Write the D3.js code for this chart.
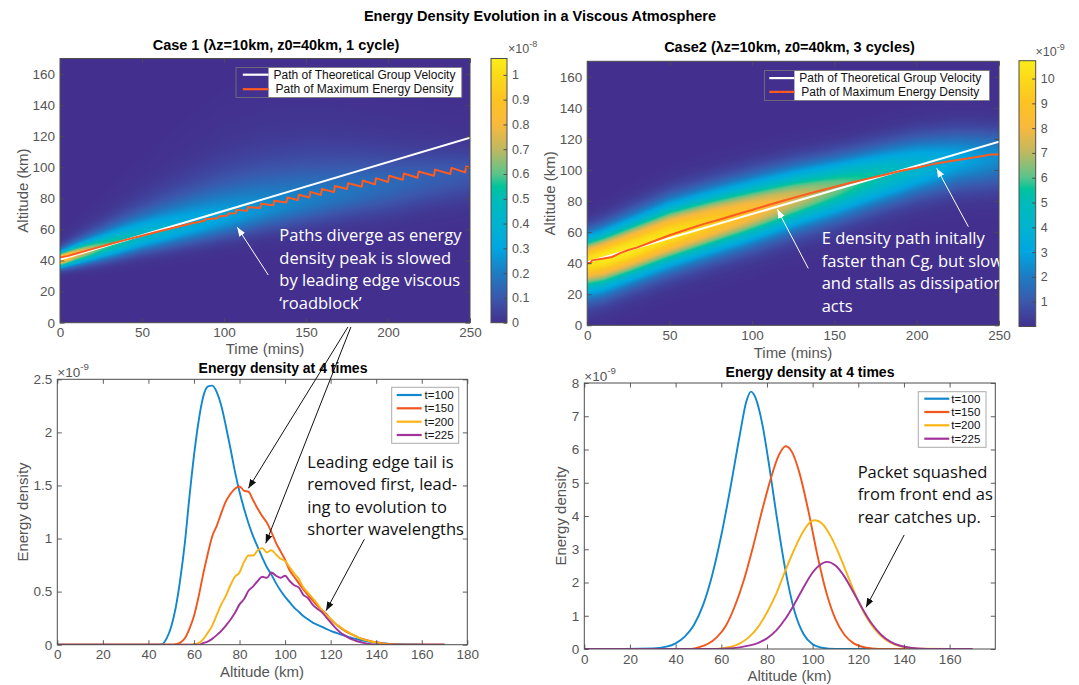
<!DOCTYPE html>
<html>
<head>
<meta charset="utf-8">
<script src="https://cdn.jsdelivr.net/npm/d3@7/dist/d3.min.js"></script>
<style>
  html,body{margin:0;padding:0;background:#fff;}
  svg{display:block;}
</style>
</head>
<body>
<svg id="chart" width="1079" height="685" xmlns="http://www.w3.org/2000/svg"></svg>
<script>
// ------------------------- DATA -------------------------
const mainTitle = "Energy Density Evolution in a Viscous Atmosphere";
const case1Title = "Case 1 (\u03bbz=10km, z0=40km, 1 cycle)";
const case2Title = "Case2 (\u03bbz=10km, z0=40km, 3 cycles)";
const profTitle = "Energy density at 4 times";

const timeTicks = [0, 50, 100, 150, 200, 250];
const altTicks = [0, 20, 40, 60, 80, 100, 120, 140, 160];
const cbar1Ticks = [0, 0.1, 0.2, 0.3, 0.4, 0.5, 0.6, 0.7, 0.8, 0.9, 1];
const cbar2Ticks = [1, 2, 3, 4, 5, 6, 7, 8, 9, 10];
const prof1XTicks = [0, 20, 40, 60, 80, 100, 120, 140, 160, 180];
const prof1YTicks = [0, 0.5, 1, 1.5, 2, 2.5];
const prof2XTicks = [0, 20, 40, 60, 80, 100, 120, 140, 160];
const prof2YTicks = [0, 1, 2, 3, 4, 5, 6, 7, 8];

// Heat-map envelopes (per time sample)
const envTimes   = [0, 10, 25, 50, 75, 100, 125, 150, 175, 200, 225, 250];
// case 1 (units 1e-8)
const env1Center = [41, 44.5, 49, 56, 62, 67.5, 73.5, 79, 84.5, 89, 93.5, 97];
const env1Peak   = [1.066, 0.82, 0.62, 0.45, 0.36, 0.3, 0.25, 0.21, 0.18, 0.15, 0.125, 0.105];
const env1SigLow = [3.5, 4.5, 5.5, 6.5, 7.5, 8, 9, 10, 11, 12, 12, 12];
const env1TailHigh = [2.5, 3.5, 5, 8, 11, 14, 15.5, 15.5, 14, 12, 10, 8.5];
// case 2 (units 1e-9)
const env2Center = [41, 43.5, 48.5, 58, 66, 73.5, 81.5, 88.5, 95.3, 101.2, 106.4, 109];
const env2Peak   = [10.3, 10.72, 10.7, 10.4, 9.6, 8.6, 7.5, 6.4, 5.3, 4.2, 3.1, 2.4];
const env2SigLow = [13, 13, 12.5, 12.5, 12.5, 12.5, 12.5, 12.5, 12, 11.5, 12, 13];
const env2SigHigh = [10.5, 11, 12, 13, 13, 13, 12.5, 12, 12, 12.5, 12, 11];

// Paths on heat maps
const cg1Time = [0, 250], cg1Alt = [40.6, 119];
const max1Time = [0,5,10,20,30,40,50,60,70,80,88,88.7,96,96.7,102,102.7,
  107,107.7,114,114.7,122,122.7,130,130.7,138,138.7,145,145.7,152,152.7,159,159.7,
  167,167.7,175,175.7,184,184.7,192,192.7,200,200.7,209,209.7,218,218.7,228,228.7,
  238,238.7,247,247.7,250];
const max1Alt = [42,43,44.5,47.5,50.5,53.3,56,58.7,61.3,63.8,65.6,66.6,67.2,68.3,69,70.2,
  70.5,72.6,72,74.5,73.8,76.5,75.5,78.5,77.3,80.5,79,82.3,80.6,84.2,82.2,86,
  84,88,86,89.8,87.5,91.5,89,93,90.5,94.5,92,96,93.3,97.3,94.6,98.5,
  95.7,99.6,96.7,100.5,99.5];
const cg2Time = [0, 250], cg2Alt = [40.6, 118.2];
const max2Time = [0,2,3,10,15,20,25,30,40,50,60,70,80,90,100,110,120,130,140,150,160,170,180,190,200,210,220,230,240,245,250];
const max2Alt  = [40,40.3,41.8,43,44,46.5,48.5,50,54,58,61.5,65,68,71.2,74.2,77.5,80.5,83.5,86.3,89,91.8,94.3,96.8,99.3,101.5,103.8,105.6,107.2,109,110,110];

// Case 1 profiles (units 1e-9)
const prof1Alt = [0,40,42,44,46,48,50,52,54,56,58,60,62,64,66,68,70,72,74,76,78,80,82,84,86,88,90,92,94,96,98,100,102,104,106,108,110,112,114,116,118,120,122,124,126,128,130,132,134,136,138,140,142,144,146,148,150,160,170];
const prof1T100 = [0,0,0,0,0.005,0.06,0.17,0.35,0.62,0.96,1.39,1.78,2.1,2.33,2.43,2.44,2.38,2.25,2.06,1.85,1.63,1.44,1.28,1.14,1.02,0.92,0.82,0.73,0.66,0.58,0.51,0.45,0.4,0.35,0.31,0.27,0.24,0.21,0.19,0.17,0.15,0.13,0.115,0.1,0.085,0.07,0.06,0.05,0.04,0.032,0.025,0.02,0.015,0.011,0.008,0.006,0.004,0.001,0];
const prof1T150 = [0,0,0,0,0,0,0,0.005,0.02,0.06,0.15,0.27,0.45,0.66,0.85,1.02,1.12,1.24,1.35,1.42,1.47,1.49,1.45,1.44,1.36,1.28,1.21,1.15,1.06,0.96,0.88,0.8,0.7,0.64,0.58,0.52,0.47,0.42,0.37,0.33,0.29,0.24,0.2,0.165,0.135,0.11,0.09,0.07,0.055,0.043,0.032,0.023,0.016,0.01,0.006,0.003,0.001,0,0];
const prof1T200 = [0,0,0,0,0,0,0,0,0,0,0,0.005,0.015,0.05,0.11,0.18,0.28,0.38,0.46,0.56,0.64,0.68,0.78,0.84,0.84,0.89,0.91,0.87,0.89,0.85,0.81,0.79,0.73,0.67,0.62,0.54,0.49,0.44,0.39,0.33,0.28,0.245,0.2,0.17,0.14,0.115,0.09,0.07,0.052,0.04,0.028,0.02,0.012,0.007,0.004,0.002,0,0,0];
const prof1T225 = [0,0,0,0,0,0,0,0,0,0,0,0,0,0.015,0.03,0.055,0.09,0.13,0.18,0.235,0.3,0.38,0.43,0.51,0.55,0.6,0.64,0.63,0.68,0.65,0.63,0.65,0.6,0.56,0.54,0.47,0.44,0.38,0.34,0.31,0.26,0.21,0.16,0.12,0.09,0.065,0.045,0.03,0.02,0.01,0.005,0.002,0,0,0,0,0,0,0];

// Case 2 profiles (units 1e-9)
const prof2AltT100 = [0,30,36,40,44,48,52,56,60,64,68,71,73,75,78,81,84,88,92,96,100,104,110,170];
const prof2T100    = [0,0.02,0.07,0.17,0.37,0.72,1.32,2.22,3.42,4.85,6.4,7.45,7.74,7.55,6.75,5.5,4.1,2.4,1.15,0.45,0.14,0.04,0,0];
const prof2AltT150 = [0,46,50,54,58,62,66,70,74,78,82,85,88.2,91,94,98,102,106,110,114,118,122,126,132,170];
const prof2T150    = [0,0,0.05,0.15,0.35,0.7,1.3,2.1,3.1,4.2,5.2,5.8,6.1,5.92,5.35,4.2,2.85,1.7,0.9,0.42,0.17,0.06,0.02,0,0];
const prof2AltT200 = [0,56,60,64,68,72,76,80,84,88,92,96,99,101,104,108,112,116,120,124,128,132,136,140,144,148,170];
const prof2T200    = [0,0,0.02,0.06,0.16,0.35,0.65,1.1,1.65,2.35,3.0,3.55,3.82,3.87,3.78,3.38,2.78,2.1,1.44,0.91,0.53,0.28,0.135,0.06,0.024,0.008,0];
const prof2AltT225 = [0,60,64,68,72,76,80,84,88,92,96,100,103,106.3,110,114,118,122,126,130,134,138,142,146,150,170];
const prof2T225    = [0,0,0.02,0.05,0.1,0.18,0.32,0.55,0.9,1.35,1.85,2.3,2.52,2.62,2.51,2.17,1.69,1.19,0.75,0.43,0.22,0.105,0.045,0.017,0.005,0];

const seriesNames = ["t=100", "t=150", "t=200", "t=225"];
const seriesColors = ["#1187cc", "#f2561d", "#f9b414", "#a2339c"];
const legendTop = ["Path of Theoretical Group Velocity", "Path of Maximum Energy Density"];

const note1 = ["Paths diverge as energy", "density peak is slowed", "by leading edge viscous", "\u2018roadblock\u2019"];
const note2 = ["E density path initally", "faster than Cg, but slows", "and stalls as dissipation", "acts"];
const note3 = ["Leading edge tail is", "removed first, lead-", "ing to evolution to", "shorter wavelengths"];
const note4 = ["Packet squashed", "from front end as", "rear catches up."];

// ------------------------- STYLE / LAYOUT -------------------------
const FONT = '"Liberation Sans", Arial, Helvetica, sans-serif';
const ANNOT = '"Open Sans", "Noto Sans", sans-serif';
const AX = '#4d4d4d';
const cmapStops  = [0, 0.094, 0.188, 0.281, 0.375, 0.469, 0.516, 0.563, 0.657, 0.75, 0.844, 0.94, 1];
const cmapColors = ["#43308e","#3b58ad","#1d7cc3","#00a6e0","#00b3d0","#00bbb8","#00c49c","#5cc48a","#c0b860","#f9b93d","#fdc322","#fbdc18","#fbec1a"];

const P1 = {x0:60, x1:470, y0:58.5, y1:322.7};
const CB1 = {x0:491, x1:507, y0:58.5, y1:322.7};
const P2 = {x0:587.2, x1:999, y0:61.3, y1:325.3};
const CB2 = {x0:1019, x1:1035.7, y0:60.7, y1:326.5};
const P3 = {x0:57.3, x1:467.3, y0:379.3, y1:644.7};
const P4 = {x0:584.3, x1:995.3, y0:383, y1:649};

const svg = d3.select('#chart');
const defs = svg.append('defs');

// scales
const x1s = d3.scaleLinear().domain([0,250]).range([P1.x0,P1.x1]);
const y1s = d3.scaleLinear().domain([0,170]).range([P1.y1,P1.y0]);
const x2s = d3.scaleLinear().domain([0,250]).range([P2.x0,P2.x1]);
const y2s = d3.scaleLinear().domain([0,170]).range([P2.y1,P2.y0]);
const x3s = d3.scaleLinear().domain([0,180]).range([P3.x0,P3.x1]);
const y3s = d3.scaleLinear().domain([0,2.5]).range([P3.y1,P3.y0]);
const x4s = d3.scaleLinear().domain([0,180]).range([P4.x0,P4.x1]);
const y4s = d3.scaleLinear().domain([0,8]).range([P4.y1,P4.y0]);
const cmax1 = 1.066, cmax2 = 10.72;
const cb1s = d3.scaleLinear().domain([0,cmax1]).range([CB1.y1,CB1.y0]);
const cb2s = d3.scaleLinear().domain([0,cmax2]).range([CB2.y1,CB2.y0]);

function colorScale(cmax){
  return d3.scaleLinear().domain(cmapStops.map(f=>f*cmax)).range(cmapColors)
    .interpolate(d3.interpolateRgb).clamp(true);
}

function clip(id, P){
  defs.append('clipPath').attr('id',id).append('rect')
    .attr('x',P.x0).attr('y',P.y0).attr('width',P.x1-P.x0).attr('height',P.y1-P.y0);
}
clip('c1',P1); clip('c2',P2); clip('c3',P3); clip('c4',P4);

// ------------------------- HEAT MAPS -------------------------
function drawHeat(P, xs, ys, cmax, center, peak, sLow, sHigh, sechHigh){
  const w = Math.round(P.x1-P.x0), h = Math.round(P.y1-P.y0);
  const cv = document.createElement('canvas'); cv.width=w; cv.height=h;
  const ctx = cv.getContext('2d'); const img = ctx.createImageData(w,h);
  const cs = colorScale(cmax);
  const N = 1024, lut = [];
  for(let i=0;i<N;i++){ const c = d3.rgb(cs(i/(N-1)*cmax)); lut.push([c.r,c.g,c.b]); }
  const cS = d3.scaleLinear().domain(envTimes).range(center);
  const pS = d3.scaleLinear().domain(envTimes).range(peak);
  const lS = d3.scaleLinear().domain(envTimes).range(sLow);
  const hS = d3.scaleLinear().domain(envTimes).range(sHigh);
  for(let px=0; px<w; px++){
    const t = xs.invert(P.x0 + (px+0.5)*(P.x1-P.x0)/w);
    const c = cS(t), p = pS(t), sl = lS(t), sh = hS(t);
    for(let py=0; py<h; py++){
      const z = ys.invert(P.y0 + (py+0.5)*(P.y1-P.y0)/h);
      const d = z - c;
      let v;
      if(d < 0) v = p*Math.exp(-d*d/(2*sl*sl));
      else v = sechHigh ? p/Math.cosh(d/sh) : p*Math.exp(-d*d/(2*sh*sh));
      let k = Math.round(v/cmax*(N-1)); if(k<0)k=0; if(k>N-1)k=N-1;
      const o = (py*w+px)*4, col = lut[k];
      img.data[o]=col[0]; img.data[o+1]=col[1]; img.data[o+2]=col[2]; img.data[o+3]=255;
    }
  }
  ctx.putImageData(img,0,0);
  svg.append('image').attr('x',P.x0).attr('y',P.y0).attr('width',P.x1-P.x0).attr('height',P.y1-P.y0)
    .attr('preserveAspectRatio','none').attr('href', cv.toDataURL());
}
drawHeat(P1, x1s, y1s, cmax1, env1Center, env1Peak, env1SigLow, env1TailHigh, true);
drawHeat(P2, x2s, y2s, cmax2, env2Center, env2Peak, env2SigLow, env2SigHigh, false);

// path lines
function pathLine(clipId, xs, ys, T, Z, color, width){
  const pts = T.map((t,i)=>[t, Z[i]]);
  svg.append('path').attr('clip-path',`url(#${clipId})`)
    .attr('d', d3.line().x(d=>xs(d[0])).y(d=>ys(d[1]))(pts))
    .attr('fill','none').attr('stroke',color).attr('stroke-width',width).attr('stroke-linejoin','round');
}
pathLine('c1', x1s, y1s, cg1Time, cg1Alt, '#ffffff', 2);
pathLine('c1', x1s, y1s, max1Time, max1Alt, '#ff5a1f', 2);
pathLine('c2', x2s, y2s, cg2Time, cg2Alt, '#ffffff', 2);
pathLine('c2', x2s, y2s, max2Time, max2Alt, '#ff5a1f', 2);

// ------------------------- PROFILES -------------------------
function profile(clipId, xs, ys, Z, V, color){
  const pts = Z.map((z,i)=>[z, V[i]]);
  svg.append('path').attr('clip-path',`url(#${clipId})`)
    .attr('d', d3.line().curve(d3.curveMonotoneX).x(d=>xs(d[0])).y(d=>ys(d[1]))(pts))
    .attr('fill','none').attr('stroke',color).attr('stroke-width',1.9).attr('stroke-linejoin','round');
}
[prof1T100, prof1T150, prof1T200, prof1T225].forEach((v,i)=>profile('c3', x3s, y3s, prof1Alt, v, seriesColors[i]));
profile('c4', x4s, y4s, prof2AltT100, prof2T100, seriesColors[0]);
profile('c4', x4s, y4s, prof2AltT150, prof2T150, seriesColors[1]);
profile('c4', x4s, y4s, prof2AltT200, prof2T200, seriesColors[2]);
profile('c4', x4s, y4s, prof2AltT225, prof2T225, seriesColors[3]);

// ------------------------- AXES -------------------------
function axes(P, xs, ys, xT, yT, fmtX, fmtY){
  const g = svg.append('g').attr('font-family',FONT);
  const style = sel => { sel.select('.domain').remove();
    sel.selectAll('.tick line').attr('stroke',AX).attr('stroke-width',0.9);
    sel.selectAll('.tick text').attr('fill','#555').attr('font-size',13.5); };
  g.append('g').attr('transform',`translate(0,${P.y1})`)
    .call(d3.axisBottom(xs).tickValues(xT).tickSize(-4.5).tickPadding(5).tickFormat(fmtX)).call(style);
  g.append('g').attr('transform',`translate(0,${P.y0})`)
    .call(d3.axisTop(xs).tickValues(xT).tickSize(-4.5).tickFormat('')).call(style);
  g.append('g').attr('transform',`translate(${P.x0},0)`)
    .call(d3.axisLeft(ys).tickValues(yT).tickSize(-4.5).tickPadding(5).tickFormat(fmtY)).call(style);
  g.append('g').attr('transform',`translate(${P.x1},0)`)
    .call(d3.axisRight(ys).tickValues(yT).tickSize(-4.5).tickFormat('')).call(style);
  g.append('rect').attr('x',P.x0).attr('y',P.y0).attr('width',P.x1-P.x0).attr('height',P.y1-P.y0)
    .attr('fill','none').attr('stroke',AX).attr('stroke-width',1);
}
const fmt = d => String(d);
axes(P1, x1s, y1s, timeTicks, altTicks, fmt, fmt);
axes(P2, x2s, y2s, timeTicks, altTicks, fmt, fmt);
axes(P3, x3s, y3s, prof1XTicks, prof1YTicks, fmt, fmt);
axes(P4, x4s, y4s, prof2XTicks, prof2YTicks, fmt, fmt);

// ------------------------- COLORBARS -------------------------
function colorbar(id, CB, cs, cmax, ticks){
  const grad = defs.append('linearGradient').attr('id',id).attr('x1',0).attr('y1',1).attr('x2',0).attr('y2',0);
  cmapStops.forEach((f,i)=>grad.append('stop').attr('offset',f).attr('stop-color',cmapColors[i]));
  svg.append('rect').attr('x',CB.x0).attr('y',CB.y0).attr('width',CB.x1-CB.x0).attr('height',CB.y1-CB.y0)
    .attr('fill',`url(#${id})`).attr('stroke',AX).attr('stroke-width',1);
  const g = svg.append('g').attr('transform',`translate(${CB.x1},0)`).attr('font-family',FONT)
    .call(d3.axisRight(cs).tickValues(ticks).tickSize(-3.5).tickPadding(5).tickFormat(fmt));
  g.select('.domain').remove();
  g.selectAll('.tick line').attr('stroke',AX);
  g.selectAll('.tick text').attr('fill','#555').attr('font-size',12.5);
}
colorbar('g1', CB1, cb1s, cmax1, cbar1Ticks);
colorbar('g2', CB2, cb2s, cmax2, cbar2Ticks);

function expo(x, y, pw, size){
  const t = svg.append('text').attr('x',x).attr('y',y).attr('font-family',FONT)
    .attr('font-size',size).attr('fill','#555');
  t.append('tspan').text('\u00d710');
  t.append('tspan').attr('dy',-size*0.45).attr('font-size',size*0.72).text(pw);
}
expo(508, 52.5, '-8', 12.5);
expo(1035.5, 55.5, '-9', 12.5);
expo(57.3, 376.5, '-9', 13.5);
expo(584.3, 380.5, '-9', 13.5);

// ------------------------- TITLES & LABELS -------------------------
function txt(x, y, s, size, opts={}){
  return svg.append('text').attr('x',x).attr('y',y).text(s)
    .attr('font-family',opts.family||FONT).attr('font-size',size)
    .attr('font-weight',opts.bold?'bold':'normal').attr('fill',opts.fill||'#000')
    .attr('text-anchor',opts.anchor||'middle');
}
txt(540, 21, mainTitle, 14.5, {bold:true});
txt(276, 49.5, case1Title, 14.5, {bold:true});
txt(789.5, 52, case2Title, 14.5, {bold:true});
txt(283, 373, profTitle, 14, {bold:true});
txt(810, 376.5, profTitle, 14, {bold:true});

txt(265, 354, 'Time (mins)', 15, {fill:'#555'});
txt(793, 358, 'Time (mins)', 15, {fill:'#555'});
txt(262, 677, 'Altitude (km)', 15, {fill:'#555'});
txt(789.5, 681, 'Altitude (km)', 15, {fill:'#555'});
function ylab(x, y, s){
  svg.append('text').attr('transform',`translate(${x},${y}) rotate(-90)`).text(s)
    .attr('font-family',FONT).attr('font-size',15).attr('fill','#555')
    .attr('text-anchor','middle').attr('dominant-baseline','central');
}
ylab(22, 190.6, 'Altitude (km)');
ylab(549, 193.3, 'Altitude (km)');
ylab(22, 512, 'Energy density');
ylab(560, 516, 'Energy density');

// ------------------------- LEGENDS -------------------------
function topLegend(bx0, bx1, by0, by1, lx0, lx1, ys, textX){
  svg.append('rect').attr('x',lx1).attr('y',by0).attr('width',bx1-lx1).attr('height',by1-by0).attr('fill','#fff');
  svg.append('rect').attr('x',bx0).attr('y',by0).attr('width',bx1-bx0).attr('height',by1-by0)
    .attr('fill','none').attr('stroke','#777').attr('stroke-width',0.8);
  ['#ffffff','#ff5a1f'].forEach((c,i)=>{
    svg.append('line').attr('x1',lx0).attr('x2',lx1).attr('y1',ys[i]).attr('y2',ys[i])
      .attr('stroke',c).attr('stroke-width',2.2);
    txt(textX, ys[i]+4.2, legendTop[i], 12, {fill:'#111'});
  });
}
topLegend(236, 461.8, 67.5, 97.5, 242.8, 268.5, [74.7, 89.2], 364.5);
topLegend(764.5, 989.6, 70.6, 100.5, 769.3, 794.4, [78.1, 91.9], 890.3);

function botLegend(bx0, bx1, by0, by1, lx0, lx1, tx, ys){
  svg.append('rect').attr('x',bx0).attr('y',by0).attr('width',bx1-bx0).attr('height',by1-by0)
    .attr('fill','#fff').attr('stroke','#aaa').attr('stroke-width',1);
  seriesNames.forEach((n,i)=>{
    svg.append('line').attr('x1',lx0).attr('x2',lx1).attr('y1',ys[i]).attr('y2',ys[i])
      .attr('stroke',seriesColors[i]).attr('stroke-width',2.2);
    txt(tx, ys[i]+4, n, 11.5, {anchor:'start', fill:'#111'});
  });
}
botLegend(391.7, 458.7, 387.3, 443.3, 396.7, 421.7, 424.5, [395, 408.3, 421.7, 435]);
botLegend(918.3, 986, 391.7, 447.3, 924.3, 949.3, 951.2, [398.7, 412, 425.3, 438.7]);

// ------------------------- ANNOTATIONS -------------------------
function marker(id, color){
  defs.append('marker').attr('id',id).attr('viewBox','0 0 10 10').attr('refX',10).attr('refY',5)
    .attr('markerWidth',9).attr('markerHeight',9).attr('markerUnits','userSpaceOnUse').attr('orient','auto')
    .append('path').attr('d','M0,1.2 L10,5 L0,8.8 Z').attr('fill',color);
}
marker('mw','#ffffff'); marker('mk','#111111');
function arrow(xs, ys, from, to, color, mk){
  svg.append('line').attr('x1',xs(from[0])).attr('y1',ys(from[1])).attr('x2',xs(to[0])).attr('y2',ys(to[1]))
    .attr('stroke',color).attr('stroke-width',1).attr('marker-end',`url(#${mk})`);
}
function note(lines, x, y0, step, color, clipId){
  const g = svg.append('g'); if(clipId) g.attr('clip-path',`url(#${clipId})`);
  lines.forEach((s,i)=>g.append('text').attr('x',x).attr('y',y0+i*step).text(s)
    .attr('font-family',ANNOT).attr('font-size',16.5).attr('fill',color));
}
note(note1, 279.3, 241, 22.5, '#ffffff', 'c1');
arrow(x1s, y1s, [127, 30.7], [108.1, 61.4], '#ffffff', 'mw');

note(note2, 821.7, 244, 22.6, '#ffffff', 'c2');
arrow(x2s, y2s, [134.2, 36.7], [115.4, 74.7], '#ffffff', 'mw');
arrow(x2s, y2s, [231.4, 63.5], [212.2, 101.1], '#ffffff', 'mw');

note(note3, 307.3, 467.5, 22.6, '#111111');
arrow(x3s, y3s, [127.6, 2.993], [83.9, 1.473], '#111', 'mk');
arrow(x3s, y3s, [128.9, 2.993], [91.5, 0.955], '#111', 'mk');
arrow(x3s, y3s, [134.8, 0.993], [118, 0.32], '#111', 'mk');

note(note4, 857.7, 477.5, 22.8, '#111111');
arrow(x4s, y4s, [140.1, 3.43], [123.4, 1.254], '#111', 'mk');
</script>
</body>
</html>
